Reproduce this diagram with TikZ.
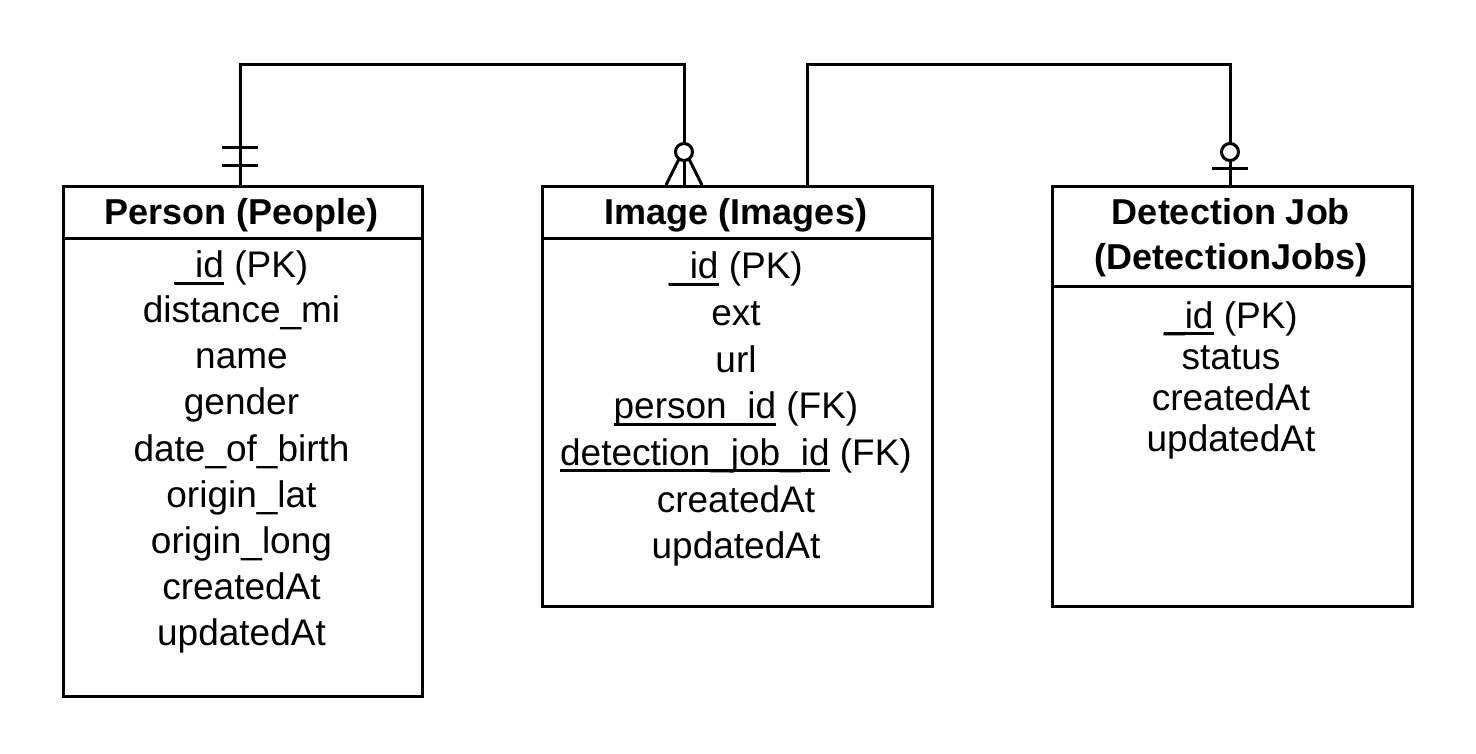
\documentclass[tikz,border=0pt]{standalone}
\usepackage{fontspec}
\setmainfont{Liberation Sans}
\newcommand\ulx[1]{\setbox0\hbox{#1}\rlap{\rule[-7pt]{\wd0}{2.8pt}}\box0\relax}
\begin{document}
\begin{tikzpicture}[x=1pt,y=-1pt,
  box/.style={draw, line width=3pt, inner sep=0pt, anchor=north west},
  conn/.style={line width=3pt},
  row/.style={anchor=base, inner sep=0pt, font=\fontsize{37}{44}\selectfont},
  head/.style={anchor=base, inner sep=0pt, font=\fontsize{36}{44}\selectfont\bfseries}]
\useasboundingbox (0,0) rectangle (1476,754);
% entity boxes
\node[box, minimum width=359pt, minimum height=510pt] (person) at (62,185) {};
\node[box, minimum width=390pt, minimum height=420pt] (image) at (541,185) {};
\node[box, minimum width=360pt, minimum height=420pt] (job) at (1051,185) {};
\draw[conn] (person.west |- 0,239) -- (person.east |- 0,239);
\draw[conn] (image.west |- 0,239) -- (image.east |- 0,239);
\draw[conn] (job.west |- 0,287) -- (job.east |- 0,287);
% headers
\node[head] (ph) at (241.5,225) {Person (People)};
\node[head] (ih) at (736,225) {Image (Images)};
\node[head] (jh1) at (1231,225) {Detection Job};
\node[head] (jh2) at (1231,270) {(DetectionJobs)};
% person rows
\node[row] (p1) at (241.5,278) {\ulx{\_id} (PK)};
\node[row] (p2) at (241.5,322) {distance\_mi};
\node[row] (p3) at (241.5,368.5) {name};
\node[row] (p4) at (241.5,414) {gender};
\node[row] (p5) at (241.5,461) {date\_of\_birth};
\node[row] (p6) at (241.5,507) {origin\_lat};
\node[row] (p7) at (241.5,553.5) {origin\_long};
\node[row] (p8) at (241.5,599.5) {createdAt};
\node[row] (p9) at (241.5,645.5) {updatedAt};
% image rows
\node[row] (i1) at (736,279) {\ulx{\_id} (PK)};
\node[row] (i2) at (736,326) {ext};
\node[row] (i3) at (736,372) {url};
\node[row] (i4) at (736,418.5) {\ulx{person\_id} (FK)};
\node[row] (i5) at (736,465) {\ulx{detection\_job\_id} (FK)};
\node[row] (i6) at (736,512) {createdAt};
\node[row] (i7) at (736,558.5) {updatedAt};
% job rows
\node[row] (j1) at (1231,328) {\ulx{\_id} (PK)};
\node[row] (j2) at (1231,369) {status};
\node[row] (j3) at (1231,410.5) {createdAt};
\node[row] (j4) at (1231,451.5) {updatedAt};
% connector anchor points
\coordinate (pTop) at (240,185);
\coordinate (iIn) at (684,185);
\coordinate (iOut) at (807,185);
\coordinate (jIn) at (1230,185);
% Person -- Image
\draw[conn] (pTop) -- (pTop |- 0,65) -| (iIn);
\draw[conn] (222,148) -- (258,148);
\draw[conn] (222,166) -- (258,166);
\draw[conn] (679,159) -- (666,185);
\draw[conn] (689,159) -- (702,185);
\draw[conn, fill=white] (684,152) circle (8.5pt);
% Image -- Detection Job
\draw[conn] (iOut) -- (iOut |- 0,65) -| (jIn);
\draw[conn] (1212,169) -- (1248,169);
\draw[conn, fill=white] (1230,152) circle (8.5pt);
\end{tikzpicture}
\end{document}
